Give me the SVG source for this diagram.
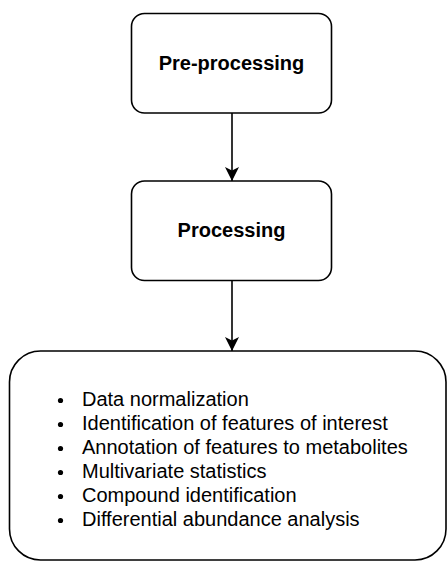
<svg xmlns="http://www.w3.org/2000/svg" width="447" height="563" viewBox="0 0 447 563">
<style>
.box{fill:#fff;stroke:#000;stroke-width:1.6}
.title{font-family:"Liberation Sans",Arial,sans-serif;font-size:20px;font-weight:bold;fill:#000;text-anchor:middle}
.item{font-family:"Liberation Sans",Arial,sans-serif;font-size:20px;fill:#000}
.edge{stroke:#000;stroke-width:1.6;fill:none}
</style>
<defs>
<marker id="ah" markerWidth="14" markerHeight="14" viewBox="0 0 14 14" refX="14" refY="7" orient="auto" markerUnits="userSpaceOnUse">
<path d="M0,0 L14,7 L0,14 L3.5,7 Z" fill="#000"/>
</marker>
</defs>
<rect width="447" height="563" fill="#fff"/>
<g id="connectors">
<line class="edge" x1="232" y1="113" x2="232" y2="181" marker-end="url(#ah)"/>
<line class="edge" x1="232" y1="281" x2="232" y2="351" marker-end="url(#ah)"/>
</g>
<g id="preprocessing">
<rect class="box" x="131.5" y="13.5" width="200" height="99.5" rx="13"/>
<text class="title" x="231.5" y="70">Pre-processing</text>
</g>
<g id="processing">
<rect class="box" x="131.5" y="181" width="200" height="99.5" rx="13"/>
<text class="title" x="231.5" y="237">Processing</text>
</g>
<g id="steps">
<rect class="box" x="9.5" y="351" width="436.5" height="209" rx="31"/>
<g fill="#000">
<circle cx="60.5" cy="400.5" r="2.6"/>
<circle cx="60.5" cy="424.5" r="2.6"/>
<circle cx="60.5" cy="448.5" r="2.6"/>
<circle cx="60.5" cy="472.5" r="2.6"/>
<circle cx="60.5" cy="496.5" r="2.6"/>
<circle cx="60.5" cy="520.5" r="2.6"/>
</g>
<text class="item" x="82" y="406">Data normalization</text>
<text class="item" x="82" y="430">Identification of features of interest</text>
<text class="item" x="82" y="454">Annotation of features to metabolites</text>
<text class="item" x="82" y="478">Multivariate statistics</text>
<text class="item" x="82" y="502">Compound identification</text>
<text class="item" x="82" y="526">Differential abundance analysis</text>
</g>
</svg>
